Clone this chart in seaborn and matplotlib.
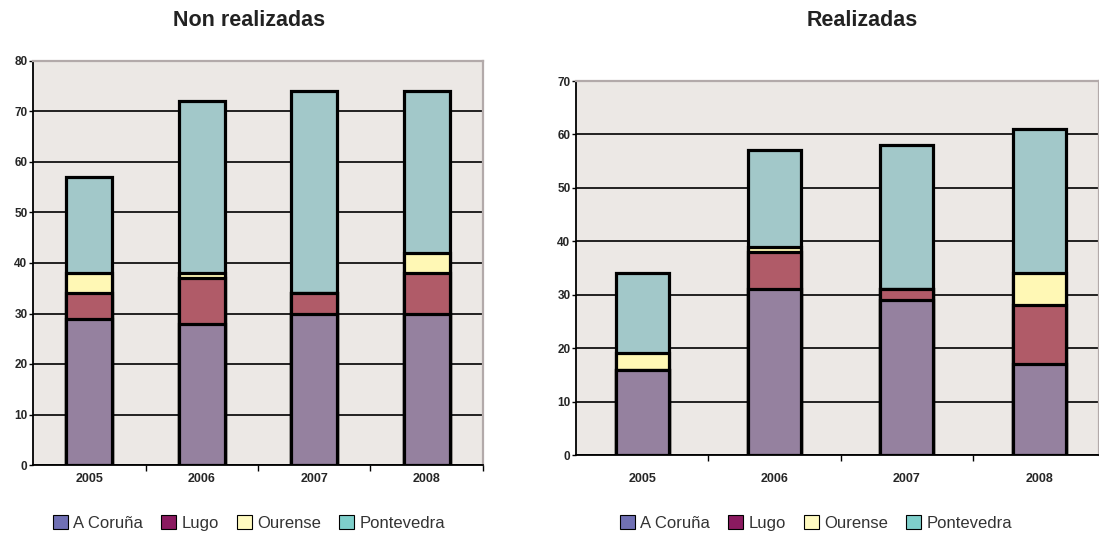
import numpy as np
import pandas as pd
import matplotlib
matplotlib.use("Agg")
import matplotlib.pyplot as plt
import seaborn as sns
from matplotlib.patches import Patch
from matplotlib.ticker import MultipleLocator, FixedLocator

sns.set_style("white")
plt.rcParams['font.family'] = ['Liberation Sans', 'DejaVu Sans']

years = ["2005", "2006", "2007", "2008"]
provinces = ["A Coruña", "Lugo", "Ourense", "Pontevedra"]

# Non realizadas
non_coruna = [29, 28, 30, 30]
non_lugo = [5, 9, 4, 8]
non_ourense = [4, 1, 0, 4]
non_pontevedra = [19, 34, 40, 32]

# Realizadas
rea_coruna = [16, 31, 29, 17]
rea_lugo = [0, 7, 2, 11]
rea_ourense = [3, 1, 0, 6]
rea_pontevedra = [15, 18, 27, 27]

bar_colors = ["#95819F", "#B05B68", "#FFF8B5", "#A2C8C9"]
legend_colors = ["#7070B4", "#8B1A60", "#FFFAC0", "#7ECFCB"]
bg = "#ECE8E5"

W, H = 1099, 536
fig = plt.figure(figsize=(W / 100, H / 100), dpi=100)


def ax_rect(x0, y_top, x1, y_bot):
    return [x0 / W, 1 - y_bot / H, (x1 - x0) / W, (y_bot - y_top) / H]


def draw(ax, series, ymax, xright, width, xpad, minor):
    df = pd.DataFrame({p: s for p, s in zip(provinces, series)}, index=years)
    cum = df.cumsum(axis=1)
    ax.set_facecolor(bg)
    # draw from top of stack down so lower segments overlay
    for i in range(len(provinces) - 1, -1, -1):
        sns.barplot(x=years, y=cum[provinces[i]].values, color=bar_colors[i],
                    saturation=1, width=width, edgecolor="black", linewidth=2.3,
                    errorbar=None, ax=ax, zorder=3)
    ax.set_xlim(-0.5, xright)
    ax.set_ylim(0, ymax)
    ax.yaxis.set_major_locator(MultipleLocator(10))
    ax.grid(axis="y", color="black", linewidth=1.2, zorder=1)
    ax.grid(axis="x", visible=False)
    ax.set_axisbelow(True)
    ax.tick_params(axis="y", which="major", direction="out", length=3, width=1,
                   color="black", labelsize=8.5, pad=1, left=True)
    ax.tick_params(axis="x", which="major", length=0, labelsize=9, pad=xpad)
    ax.xaxis.set_minor_locator(FixedLocator(minor))
    ax.tick_params(axis="x", which="minor", direction="out", length=4, width=1,
                   color="black", bottom=True)
    for lab in ax.get_xticklabels() + ax.get_yticklabels():
        lab.set_fontweight("bold")
    for s in ["left", "bottom"]:
        ax.spines[s].set_color("black")
        ax.spines[s].set_linewidth(1.3)
    for s in ["top", "right"]:
        ax.spines[s].set_color("#B3AAAA")
        ax.spines[s].set_linewidth(1.6)
    ax.set_xlabel("")
    ax.set_ylabel("")


ax1 = fig.add_axes(ax_rect(33, 61, 483, 465))
draw(ax1, [non_coruna, non_lugo, non_ourense, non_pontevedra], 80, 3.5,
     0.41, 6, [0.5, 1.5, 2.5, 3.5])

ax2 = fig.add_axes(ax_rect(576, 81, 1099, 455))
draw(ax2, [rea_coruna, rea_lugo, rea_ourense, rea_pontevedra], 70,
     -0.5 + (1099 - 576) / 132.3, 0.40, 13, [0.5, 1.5, 2.5])

fig.text(249 / W, 1 - 21 / H, "Non realizadas", ha="center", va="center",
         fontsize=15.5, fontweight="bold", color="#222222")
fig.text(862 / W, 1 - 21 / H, "Realizadas", ha="center", va="center",
         fontsize=15.5, fontweight="bold", color="#222222")

handles = [Patch(facecolor=c, edgecolor="black", linewidth=0.8) for c in legend_colors]
for cx in (249, 816):
    fig.legend(handles, provinces, loc="center", bbox_to_anchor=(cx / W, 1 - 523 / H),
               ncol=4, frameon=False, fontsize=12, handlelength=0.9, handleheight=0.9,
               handletextpad=0.3, columnspacing=1.1, labelcolor="#333333")

fig.savefig("out.png", dpi=100, facecolor="white")
